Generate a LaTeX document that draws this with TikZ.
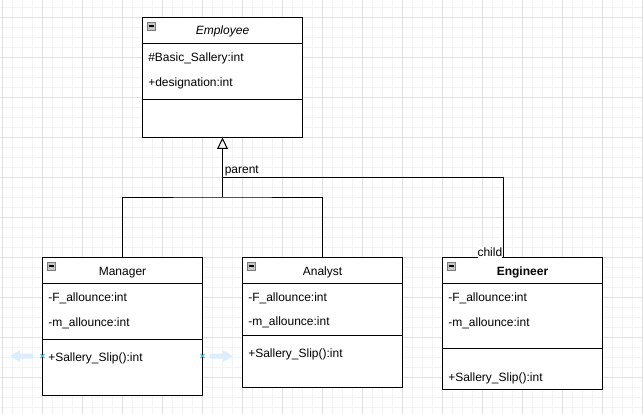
\documentclass[tikz,border=0pt]{standalone}
\usepackage{fontspec}
\setmainfont{Liberation Sans}
\usetikzlibrary{arrows.meta}

\definecolor{gridminor}{HTML}{F3F3F3}
\definecolor{gridmajor}{HTML}{E0E0E0}
\definecolor{iconfill}{HTML}{C6C6C6}
\definecolor{iconline}{HTML}{7A7A7A}
\definecolor{hintblue}{HTML}{DCEEFB}
\definecolor{hintx}{HTML}{29B6F2}

\tikzset{
  classbox/.style={draw, line width=0.75pt, fill=white, minimum width=120pt, inner sep=0pt},
  member/.style={anchor=base west, inner sep=0pt, font=\fontsize{9pt}{11pt}\selectfont},
  classname/.style={anchor=base, inner sep=0pt, font=\fontsize{9pt}{11pt}\selectfont},
  collapse/.style={draw=iconline, fill=iconfill, line width=0.6pt, minimum size=6pt, inner sep=0pt},
  wire/.style={line width=0.75pt},
  inherit/.style={wire, -{Triangle[open, length=8.5pt, width=8pt]}},
}

\begin{document}
\begin{tikzpicture}[x=0.75pt, y=-0.75pt]
  \useasboundingbox (0,0) rectangle (643,414);
  \fill[white] (0,0) rectangle (643,414);

  % grid
  \begin{scope}[line width=0.75pt]
    \clip (0,0) rectangle (643,414);
    \foreach \gx in {2.7,12.7,...,642.7} \draw[gridminor] (\gx,0) -- (\gx,414);
    \foreach \gy in {7.3,17.3,...,413.3} \draw[gridminor] (0,\gy) -- (643,\gy);
    \foreach \gx in {2.7,42.7,...,642.7} \draw[gridmajor] (\gx,0) -- (\gx,414);
    \foreach \gy in {17.3,57.3,...,413.3} \draw[gridmajor] (0,\gy) -- (643,\gy);
  \end{scope}

  % classes
  \node[classbox, minimum height=90pt] (emp) at (222.5,77) {};
  \node[classbox, minimum height=103.5pt] (mgr) at (122.5,326) {};
  \node[classbox, minimum height=97.5pt] (ana) at (322.5,322) {};
  \node[classbox, minimum height=99pt] (eng) at (522.5,323) {};

  % compartments
  \draw[wire] (142.5,43) -- (302.5,43);
  \draw[wire] (142.5,99) -- (302.5,99);
  \draw[wire] (42.5,283) -- (202.5,283);
  \draw[wire] (42.5,339) -- (202.5,339);
  \draw[wire] (242.5,283) -- (402.5,283);
  \draw[wire] (242.5,335) -- (402.5,335);
  \draw[wire] (442.5,283) -- (602.5,283);
  \draw[wire] (442.5,348) -- (602.5,348);

  % collapse icons
  \foreach \cx/\cy in {151.5/26, 51.5/266, 251.5/266, 451.5/266} {
    \node[collapse] (icon) at (\cx,\cy) {};
    \draw[line width=0.9pt] ([xshift=-2.1pt]icon.center) -- ([xshift=2.1pt]icon.center);
  }

  % names
  \node[classname, font=\fontsize{9pt}{11pt}\selectfont\itshape] (empname) at (222.5,35) {Employee};
  \node[classname] (mgrname) at (122.5,275) {Manager};
  \node[classname] (ananame) at (322.5,275) {Analyst};
  \node[classname, font=\fontsize{9pt}{11pt}\selectfont\bfseries] (engname) at (522.5,275) {Engineer};

  % members
  \node[member] (empa) at (148,61) {\#Basic\_Sallery:int};
  \node[member] (empb) at (148,86) {+designation:int};

  \node[member] (mgra) at (48,301) {-F\_allounce:int};
  \node[member] (mgrb) at (48,326.5) {-m\_allounce:int};
  \node[member] (mgrc) at (48,361) {+Sallery\_Slip():int};

  \node[member] (anaa) at (248,301) {-F\_allounce:int};
  \node[member] (anab) at (248,325) {-m\_allounce:int};
  \node[member] (anac) at (248,357) {+Sallery\_Slip():int};

  \node[member] (enga) at (448,301) {-F\_allounce:int};
  \node[member] (engb) at (448,326.5) {-m\_allounce:int};
  \node[member] (engc) at (448,381) {+Sallery\_Slip():int};

  % hover hints
  \fill[hintblue] (10,356) -- (20,350) -- (20,353.5) -- (33,353.5) -- (33,358.5) -- (20,358.5) -- (20,362) -- cycle;
  \fill[hintblue] (233,356) -- (223,350) -- (223,353.5) -- (210,353.5) -- (210,358.5) -- (223,358.5) -- (223,362) -- cycle;
  \foreach \hx in {42.5,202.5}
    \draw[hintx, line width=0.7pt] (\hx-2,354) -- (\hx+2,358) (\hx-2,358) -- (\hx+2,354);

  % labels
  \node[member] (parentlbl) at (224.5,173.6) {parent};
  \node[member, anchor=base east, fill=white, text depth=1.6pt] (childlbl) at (502.5,256) {child};

  % connectors
  \coordinate (split) at (222.5,197);
  \coordinate (branch) at (222.5,177);
  \draw[wire] (mgr.north) |- (split) -| (ana.north);
  \draw[inherit] (split) -- (emp.south);
  \draw[wire] (branch) -| ([xshift=-14.6pt]eng.north);
\end{tikzpicture}
\end{document}
